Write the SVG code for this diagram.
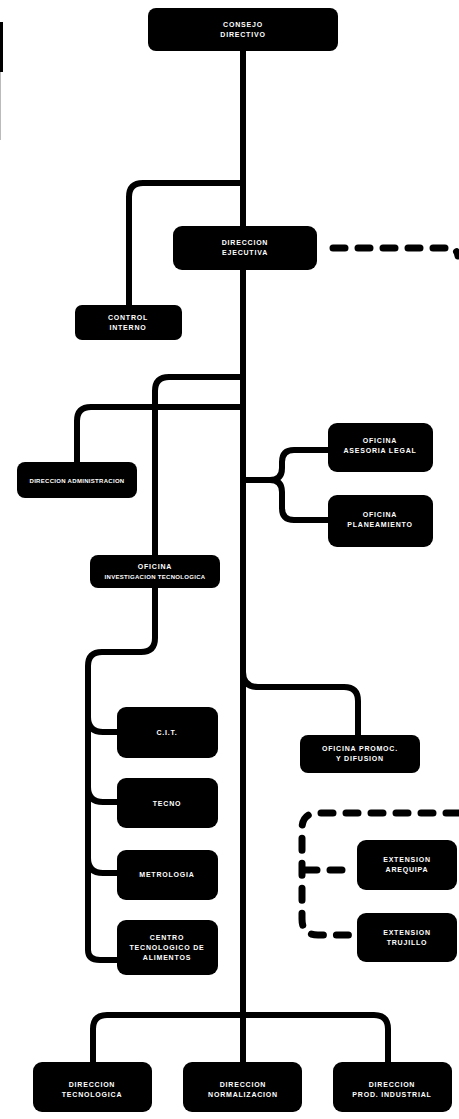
<svg xmlns="http://www.w3.org/2000/svg" width="459" height="1119" viewBox="0 0 459 1119">
<style>
.box{fill:#000;}
.ln{fill:none;stroke:#000;stroke-width:6;stroke-linecap:round;stroke-linejoin:round;}
.dash{fill:none;stroke:#000;stroke-width:7;stroke-linecap:round;stroke-dasharray:12 13;}
text{font-family:"Liberation Sans",Arial,sans-serif;font-size:7px;font-weight:bold;fill:#fff;text-anchor:middle;letter-spacing:0.8px;}
.sm{font-size:6px;letter-spacing:0.3px;}
</style>
<rect width="459" height="1119" fill="#fff"/>
<line x1="1.5" y1="22" x2="1.5" y2="72" stroke="#000" stroke-width="3"/>
<line x1="0.5" y1="72" x2="0.5" y2="140" stroke="#bbb" stroke-width="1"/>
<g id="connectors">
<path class="ln" d="M243,50 V1015"/>
<path class="ln" d="M243,183 H143 Q129,183 129,197 V305"/>
<path class="ln" d="M243,377 H169 Q155,377 155,391 V555"/>
<path class="ln" d="M243,407 H91 Q77,407 77,421 V462"/>
<path class="ln" d="M243,480 H270 Q282,480 282,468 V462 Q282,450 294,450 H328"/>
<path class="ln" d="M270,480 Q282,480 282,492 V508 Q282,520 294,520 H328"/>
<path class="ln" d="M155,588 V638 Q155,652 141,652 H102 Q88,652 88,666 V950 Q88,960 100,960 H117"/>
<path class="ln" d="M88,717 Q88,732 103,732 H117"/>
<path class="ln" d="M88,787 Q88,802 103,802 H117"/>
<path class="ln" d="M88,858 Q88,873 103,873 H117"/>
<path class="ln" d="M243,672 Q243,687 258,687 H344 Q358,687 358,701 V735"/>
<path class="ln" d="M93,1062 V1029 Q93,1015 107,1015 H374 Q388,1015 388,1029 V1062"/>
<path class="ln" d="M243,1015 V1062"/>
<path class="dash" d="M333,248 H452 Q457,250 458,256"/>
<path class="dash" d="M458,813 H318 Q302,813 302,829 V919 Q302,935 318,935 H352"/>
<path class="dash" d="M305,870 H350"/>
</g>
<g id="n-consejo"><rect class="box" x="148" y="8" width="190" height="43" rx="8"/><text x="243" y="27">CONSEJO</text><text x="243" y="37">DIRECTIVO</text></g>
<g id="n-ejecutiva"><rect class="box" x="173" y="226" width="144" height="44" rx="9"/><text x="245" y="245">DIRECCION</text><text x="245" y="255">EJECUTIVA</text></g>
<g id="n-control"><rect class="box" x="75" y="305" width="107" height="35" rx="7"/><text x="128" y="320">CONTROL</text><text x="128" y="330">INTERNO</text></g>
<g id="n-administracion"><rect class="box" x="17" y="462" width="120" height="36" rx="8"/><text class="sm" x="77" y="483">DIRECCION ADMINISTRACION</text></g>
<g id="n-asesoria"><rect class="box" x="328" y="423" width="105" height="49" rx="9"/><text x="380" y="443">OFICINA</text><text x="380" y="453">ASESORIA LEGAL</text></g>
<g id="n-planeamiento"><rect class="box" x="328" y="495" width="105" height="52" rx="9"/><text x="380" y="517">OFICINA</text><text x="380" y="527">PLANEAMIENTO</text></g>
<g id="n-oficina"><rect class="box" x="90" y="555" width="130" height="33" rx="8"/><text x="155" y="569">OFICINA</text><text class="sm" x="155" y="579">INVESTIGACION TECNOLOGICA</text></g>
<g id="n-cit"><rect class="box" x="117" y="707" width="101" height="51" rx="9"/><text x="167" y="735">C.I.T.</text></g>
<g id="n-tecno"><rect class="box" x="117" y="778" width="101" height="50" rx="9"/><text x="167" y="806">TECNO</text></g>
<g id="n-metrologia"><rect class="box" x="117" y="850" width="101" height="50" rx="9"/><text x="167" y="877">METROLOGIA</text></g>
<g id="n-centro"><rect class="box" x="117" y="920" width="101" height="55" rx="9"/><text x="167" y="940">CENTRO</text><text x="167" y="950">TECNOLOGICO DE</text><text x="167" y="960">ALIMENTOS</text></g>
<g id="n-promoc"><rect class="box" x="300" y="735" width="120" height="38" rx="8"/><text x="360" y="751">OFICINA PROMOC.</text><text x="360" y="761">Y DIFUSION</text></g>
<g id="n-arequipa"><rect class="box" x="357" y="840" width="100" height="50" rx="9"/><text x="407" y="862">EXTENSION</text><text x="407" y="872">AREQUIPA</text></g>
<g id="n-trujillo"><rect class="box" x="357" y="913" width="100" height="49" rx="9"/><text x="407" y="935">EXTENSION</text><text x="407" y="945">TRUJILLO</text></g>
<g id="n-tecnologica"><rect class="box" x="33" y="1062" width="119" height="50" rx="9"/><text x="92" y="1087">DIRECCION</text><text x="92" y="1097">TECNOLOGICA</text></g>
<g id="n-normalizacion"><rect class="box" x="183" y="1062" width="119" height="50" rx="9"/><text x="243" y="1087">DIRECCION</text><text x="243" y="1097">NORMALIZACION</text></g>
<g id="n-industrial"><rect class="box" x="333" y="1062" width="119" height="50" rx="9"/><text x="392" y="1087">DIRECCION</text><text x="392" y="1097">PROD. INDUSTRIAL</text></g>
</svg>
